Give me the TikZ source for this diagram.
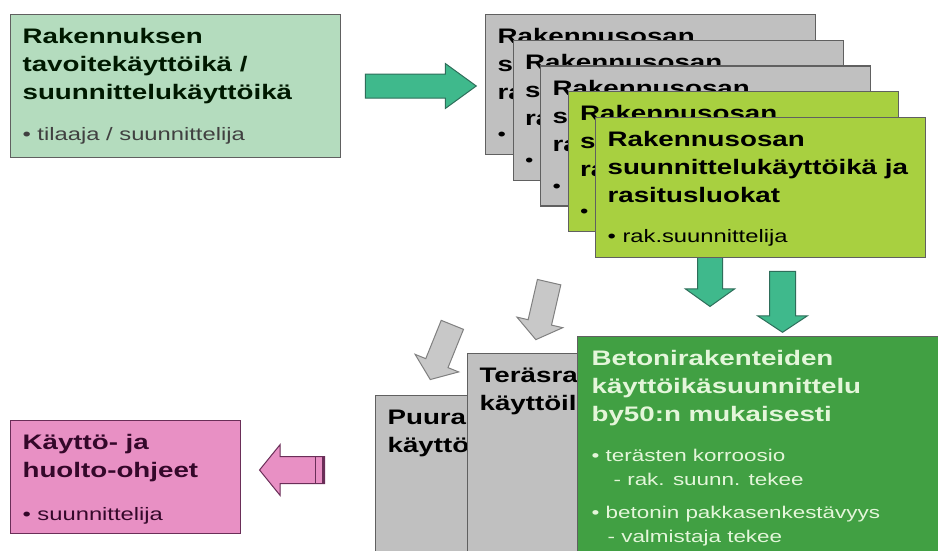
\documentclass[tikz,border=0pt]{standalone}
\usepackage{fontspec}
\setmainfont{Liberation Sans}[FakeStretch=1.32]
\usetikzlibrary{shapes.arrows}

\definecolor{tavoitegreen}{HTML}{B4DCBE}
\definecolor{tealfill}{HTML}{3FB98C}
\definecolor{tealedge}{HTML}{2E6E5A}
\definecolor{cardgrey}{HTML}{C0C0C0}
\definecolor{cardlime}{HTML}{A8D040}
\definecolor{betonigreen}{HTML}{41A043}
\definecolor{betonitext}{HTML}{E4F6DA}
\definecolor{ohjepink}{HTML}{E890C4}
\definecolor{ohjetext}{HTML}{34082A}
\definecolor{ohjeedge}{HTML}{6A2E58}
\definecolor{edgegrey}{HTML}{606060}
\definecolor{arrowgrey}{HTML}{C8C8C8}

\newcommand{\titlefont}{\fontsize{21}{28}\selectfont\bfseries}
\newcommand{\bulletfont}{\fontsize{18}{24}\selectfont\mdseries}
\newcommand{\cardbox}[3]{% width, height, contents
  \parbox[c][#2][t]{#1}{\raggedright\titlefont\rule{0pt}{29pt}#3}%
}

\begin{document}
\begin{tikzpicture}[
    x=1pt, y=-1pt,
    cardnode/.style={draw=edgegrey, line width=1.2pt, fill=#1,
      anchor=north west, inner xsep=12pt, inner ysep=0pt},
    tealarrow/.style={single arrow, fill=tealfill, draw=tealedge,
      line width=1pt, inner xsep=0pt},
    greyarrow/.style={single arrow, fill=arrowgrey, draw=edgegrey!80,
      line width=1pt, inner xsep=0pt, inner ysep=11.5pt,
      single arrow head extend=11.5pt, single arrow tip angle=106,
      minimum height=59pt},
    pinkarrow/.style={single arrow, fill=ohjepink, draw=ohjeedge,
      line width=1pt, inner xsep=0pt}
  ]
  \fill[white] (0,0) rectangle (938,550);
  \useasboundingbox (0,0) rectangle (938,550);
  \clip (0,0) rectangle (938,550);

  % tavoite
  \node[cardnode=tavoitegreen, text=black!90!green] (tavoite) at (10,14)
    {\cardbox{306pt}{143pt}{Rakennuksen\\tavoitekäyttöikä /\\suunnittelukäyttöikä\par
      \vspace{17pt}\bulletfont\color{black!75}• tilaaja / suunnittelija}};
  \node[tealarrow, inner ysep=11.5pt, single arrow head extend=10.5pt,
    single arrow tip angle=72, minimum height=111pt] (nuoli1) at (412.5,86) {};

  % rakennusosat
  \foreach \i/\col in {0/cardgrey,1/cardgrey,2/cardgrey,3/cardlime} {
    \node[cardnode=\col] (osa\i) at ({485+27.5*\i},{14+25.7*\i})
      {\cardbox{306pt}{140pt}{Rakennusosan\\s\\ra\par
        \vspace{17pt}\bulletfont •}};
  }
  \node[tealarrow, rotate=270, inner ysep=12pt, single arrow head extend=12pt,
    single arrow tip angle=109, minimum height=52pt] (nuoli2) at (710,276) {};
  \node[cardnode=cardlime] (osa4) at (595,117)
    {\cardbox{306pt}{140pt}{Rakennusosan\\suunnittelukäyttöikä ja\\rasitusluokat\par
      \vspace{16pt}\bulletfont • rak.suunnittelija}};
  \node[tealarrow, rotate=270, inner ysep=12.5pt, single arrow head extend=12pt,
    single arrow tip angle=113, minimum height=61pt] (nuoli3) at (782.5,297.5) {};

  \node[greyarrow, rotate=257] (nuoli4) at (543.5,306.5) {};
  \node[greyarrow, rotate=248] (nuoli5) at (443,348) {};

  % materiaalit
  \node[cardnode=cardgrey] (puu) at (375,395)
    {\cardbox{176pt}{170pt}{Puural\\käyttö}};
  \node[cardnode=cardgrey] (teras) at (467,353)
    {\cardbox{176pt}{210pt}{Teräsra\\käyttöil}};
  \node[cardnode=betonigreen, text=betonitext, inner xsep=14pt] (betoni) at (577,336)
    {\cardbox{360pt}{230pt}{Betonirakenteiden\\käyttöikäsuunnittelu\\by50:n mukaisesti\par
      \vspace{16pt}\fontsize{17}{24}\selectfont\mdseries • terästen korroosio\\
      \hspace*{22pt}- rak. suunn. tekee\par
      \vspace{9pt}• betonin pakkasenkestävyys\\
      \hspace*{16pt}- valmistaja tekee}};

  % ohjeet
  \node[cardnode=ohjepink, draw=ohjeedge, text=ohjetext] (ohjeet) at (10,420)
    {\cardbox{206pt}{113pt}{Käyttö- ja\\huolto-ohjeet\par
      \vspace{19pt}\bulletfont • suunnittelija}};
  \node[pinkarrow, rotate=180, inner ysep=13pt, single arrow head extend=12pt,
    single arrow tip angle=102, minimum height=65pt] (nuoli6) at (297.5,470) {};
  \draw[ohjeedge, line width=1pt] ([xshift=-10pt]nuoli6.before tail) -- ([xshift=-10pt]nuoli6.after tail);
  \draw[ohjeedge, line width=3pt] ([xshift=-2pt]nuoli6.before tail) -- ([xshift=-2pt]nuoli6.after tail);
\end{tikzpicture}
\end{document}
